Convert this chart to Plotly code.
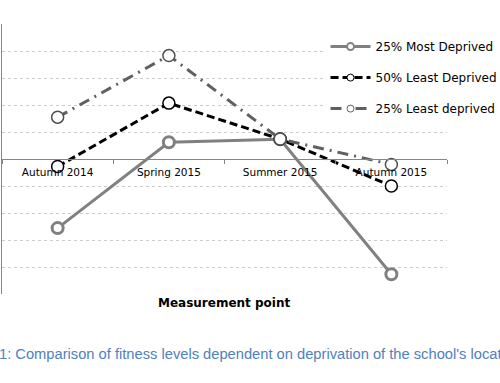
import plotly.graph_objects as go

categories = ["Autumn 2014", "Spring 2015", "Summer 2015", "Autumn 2015"]
most_deprived_25 = [-2.56, 0.62, 0.73, -4.27]
least_deprived_50 = [-0.28, 2.07, 0.74, -1.0]
least_deprived_25 = [1.55, 3.83, 0.74, -0.2]

series = [
    ("25% Most Deprived", most_deprived_25,
     dict(color="#808080", width=3),
     dict(symbol="circle", size=11, color="white", line=dict(color="#808080", width=3)),
     dict(symbol="circle", size=7, color="white", line=dict(color="#808080", width=2))),
    ("50% Least Deprived", least_deprived_50,
     dict(color="black", width=3, dash="8px,4px"),
     dict(symbol="circle", size=12, color="white", line=dict(color="black", width=1.5)),
     dict(symbol="circle", size=7, color="white", line=dict(color="black", width=1))),
    ("25% Least deprived", least_deprived_25,
     dict(color="#606060", width=3, dash="11px,6px,2px,6px"),
     dict(symbol="circle", size=12, color="white", line=dict(color="#505050", width=1.5)),
     dict(symbol="circle", size=7, color="white", line=dict(color="#606060", width=1))),
]

fig = go.Figure()
for i, (name, vals, ln, mk, lmk) in enumerate(series):
    fig.add_trace(go.Scatter(x=categories, y=vals, name=name, mode="lines+markers",
                             line=ln, marker=mk, showlegend=False))
for i, (name, vals, ln, mk, lmk) in enumerate(series):
    fig.add_trace(go.Scatter(x=[None], y=[None], name=name, mode="lines+markers",
                             line=ln, marker=lmk, legendgroup=f"g{i}", showlegend=True))

fig.update_layout(
    width=500, height=383,
    margin=dict(l=2, r=53, t=24, b=89, autoexpand=False),
    paper_bgcolor="white", plot_bgcolor="white",
    font=dict(family="DejaVu Sans", color="black"),
    showlegend=True,
    legend=dict(x=0.727, y=0.97, xanchor="left", yanchor="top",
                bgcolor="white", font=dict(size=12, family="DejaVu Sans"),
                tracegroupgap=12, itemwidth=40),
    xaxis=dict(type="category", categoryorder="array", categoryarray=categories,
               range=[-0.5, 3.5], anchor="free", position=0.5,
               showline=True, linecolor="#868686", linewidth=1,
               ticks="outside", tickson="boundaries", ticklen=4, tickcolor="#868686",
               ticklabelstandoff=3,
               tickfont=dict(size=10.5, family="DejaVu Sans"), showgrid=False),
    yaxis=dict(range=[-5, 5], dtick=1, showticklabels=False,
               showline=True, linecolor="#868686", linewidth=1,
               showgrid=True, gridcolor="#cccccc", griddash="dot", gridwidth=1,
               zeroline=False, ticks=""),
    annotations=[
        dict(text="<b>Measurement point</b>", xref="paper", yref="paper",
             x=0.5, y=-0.033, xanchor="center", yanchor="middle", showarrow=False,
             font=dict(size=12, family="DejaVu Sans", color="black")),
        dict(text="1: Comparison of fitness levels dependent on deprivation of the school's location",
             xref="paper", yref="paper", x=-0.012, y=-0.222, xanchor="left", yanchor="middle",
             showarrow=False, font=dict(size=14.7, family="Liberation Sans", color="#4f81bd")),
    ],
)

fig.write_html("out.html", config={"displayModeBar": False},
               post_script="document.body.style.margin='0';")
